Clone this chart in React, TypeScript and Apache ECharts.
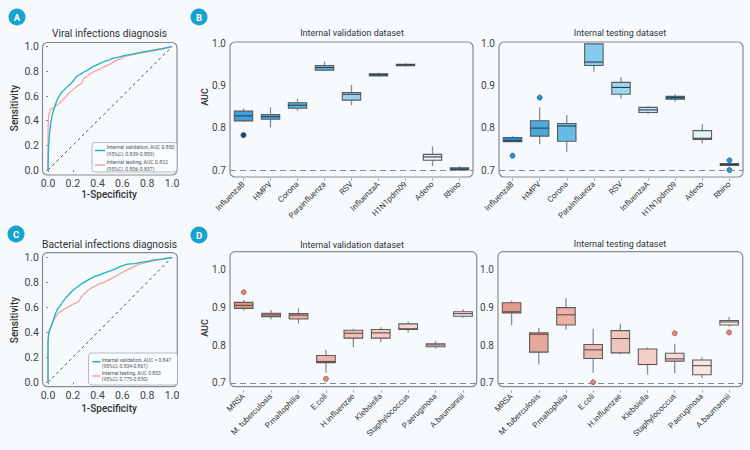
import React, { useEffect, useRef } from "react";
import * as echarts from "echarts";

// ---------- ROC data ----------
const viralValFpr = [0, 0.002, 0.008, 0.015, 0.022, 0.035, 0.054, 0.07, 0.09, 0.11, 0.13, 0.16, 0.185, 0.21, 0.226, 0.25, 0.266, 0.29, 0.32, 0.35, 0.39, 0.42, 0.456, 0.49, 0.52, 0.57, 0.62, 0.68, 0.73, 0.78, 0.84, 0.88, 0.92, 0.96, 1];
const viralValTpr = [0, 0.12, 0.245, 0.32, 0.38, 0.45, 0.515, 0.56, 0.6, 0.63, 0.65, 0.68, 0.7, 0.73, 0.755, 0.77, 0.78, 0.795, 0.81, 0.83, 0.85, 0.865, 0.88, 0.89, 0.905, 0.915, 0.93, 0.94, 0.95, 0.96, 0.97, 0.978, 0.985, 0.993, 1];
const viralTestFpr = [0, 0, 0.003, 0.01, 0.02, 0.035, 0.05, 0.07, 0.09, 0.11, 0.13, 0.15, 0.17, 0.19, 0.21, 0.23, 0.25, 0.27, 0.28, 0.29, 0.31, 0.33, 0.35, 0.375, 0.4, 0.43, 0.47, 0.51, 0.55, 0.58, 0.62, 0.66, 0.7, 0.75, 0.81, 0.86, 0.92, 0.96, 1];
const viralTestTpr = [0, 0.3, 0.41, 0.46, 0.49, 0.5, 0.505, 0.525, 0.54, 0.56, 0.58, 0.6, 0.625, 0.64, 0.66, 0.675, 0.69, 0.7, 0.72, 0.745, 0.755, 0.775, 0.785, 0.8, 0.81, 0.825, 0.845, 0.865, 0.89, 0.9, 0.92, 0.93, 0.94, 0.95, 0.96, 0.97, 0.98, 0.99, 1];
const bactValFpr = [0, 0, 0.004, 0.008, 0.015, 0.027, 0.04, 0.05, 0.063, 0.076, 0.095, 0.117, 0.135, 0.158, 0.185, 0.21, 0.24, 0.266, 0.3, 0.334, 0.375, 0.416, 0.455, 0.497, 0.54, 0.59, 0.64, 0.7, 0.75, 0.81, 0.86, 0.92, 0.96, 1];
const bactValTpr = [0, 0.32, 0.37, 0.4, 0.42, 0.45, 0.49, 0.52, 0.555, 0.585, 0.61, 0.64, 0.665, 0.69, 0.72, 0.745, 0.765, 0.785, 0.805, 0.825, 0.845, 0.86, 0.875, 0.89, 0.905, 0.93, 0.945, 0.95, 0.96, 0.97, 0.98, 0.985, 0.992, 1];
const bactTestFpr = [0, 0, 0.005, 0.02, 0.035, 0.05, 0.07, 0.09, 0.11, 0.13, 0.16, 0.185, 0.21, 0.24, 0.255, 0.266, 0.285, 0.307, 0.33, 0.36, 0.39, 0.416, 0.45, 0.484, 0.52, 0.55, 0.585, 0.62, 0.66, 0.7, 0.74, 0.78, 0.82, 0.86, 0.89, 0.93, 0.97, 1];
const bactTestTpr = [0, 0.33, 0.4, 0.44, 0.475, 0.505, 0.535, 0.56, 0.57, 0.585, 0.6, 0.615, 0.63, 0.64, 0.655, 0.68, 0.7, 0.72, 0.74, 0.76, 0.775, 0.79, 0.8, 0.815, 0.835, 0.85, 0.87, 0.89, 0.91, 0.93, 0.945, 0.955, 0.965, 0.975, 0.98, 0.99, 0.995, 1];

// ---------- Box plot data: [low whisker, Q1, median, Q3, high whisker] ----------
const viralCategories = ["InfluenzaB", "HMPV", "Corona", "Parainfluenza", "RSV", "InfluenzaA", "H1N1pdm09", "Adeno", "Rhino"];
const viralValBoxes = [
  [0.814, 0.816, 0.828, 0.839, 0.8455],
  [0.801, 0.82, 0.826, 0.831, 0.848],
  [0.84, 0.846, 0.853, 0.859, 0.868],
  [0.934, 0.936, 0.942, 0.947, 0.956],
  [0.853, 0.865, 0.879, 0.883, 0.901],
  [0.921, 0.922, 0.925, 0.9275, 0.93],
  [0.944, 0.9464, 0.948, 0.9496, 0.952],
  [0.709, 0.723, 0.731, 0.737, 0.756],
  [0.698, 0.7, 0.702, 0.705, 0.709],
];
const viralValOutliers = [[0, 0.7825]];
const viralTestBoxes = [
  [0.767, 0.767, 0.769, 0.777, 0.78],
  [0.761, 0.78, 0.799, 0.8164, 0.848],
  [0.743, 0.768, 0.804, 0.81, 0.83],
  [0.932, 0.947, 0.955, 0.998, 0.999],
  [0.869, 0.879, 0.895, 0.907, 0.919],
  [0.832, 0.836, 0.842, 0.848, 0.851],
  [0.861, 0.867, 0.871, 0.874, 0.879],
  [0.763, 0.772, 0.775, 0.793, 0.808],
  [0.709, 0.711, 0.713, 0.7155, 0.72],
];
const viralTestOutliers = [[0, 0.734], [1, 0.871], [8, 0.723], [8, 0.7]];

const bactCategories = ["MRSA", "M. tuberculosis", "P.maltophilia", "E.coli", "H.influenzae", "Klebsiella", "Staphylococcus", "P.aeruginosa", "A.baumannii"];
const bactValBoxes = [
  [0.892, 0.898, 0.906, 0.914, 0.92],
  [0.869, 0.876, 0.881, 0.885, 0.894],
  [0.858, 0.87, 0.88, 0.884, 0.898],
  [0.727, 0.754, 0.757, 0.773, 0.788],
  [0.795, 0.819, 0.832, 0.84, 0.844],
  [0.809, 0.819, 0.833, 0.842, 0.848],
  [0.834, 0.842, 0.844, 0.857, 0.863],
  [0.792, 0.796, 0.801, 0.804, 0.811],
  [0.873, 0.877, 0.884, 0.889, 0.896],
];
const bactValOutliers = [[0, 0.941], [3, 0.711]];
const bactTestBoxes = [
  [0.853, 0.886, 0.889, 0.913, 0.919],
  [0.749, 0.782, 0.829, 0.833, 0.846],
  [0.841, 0.854, 0.881, 0.9, 0.925],
  [0.727, 0.765, 0.788, 0.802, 0.844],
  [0.776, 0.78, 0.818, 0.839, 0.857],
  [0.722, 0.749, 0.749, 0.79, 0.794],
  [0.726, 0.758, 0.764, 0.779, 0.804],
  [0.713, 0.722, 0.746, 0.761, 0.768],
  [0.85, 0.854, 0.862, 0.866, 0.875],
];
const bactTestOutliers = [[3, 0.702], [6, 0.832], [8, 0.834]];

const viralValColors = ["#3aa3de", "#48a9de", "#56b2e2", "#62bce8", "#9bd2f0", "#3d7fa3", "#5a9cc0", "#e7f3fa", "#2a8ed0"];
const viralTestColors = ["#1c8bd0", "#47abe0", "#66bce8", "#85cbee", "#9ed5f1", "#c6e6f6", "#2394d6", "#e5f3fa", "#1f77b4"];
const bactValColors = ["#e0978a", "#d9a096", "#e6ada2", "#ebb7ad", "#eec1b9", "#f1cbc4", "#f3d6d0", "#f5e2de", "#f8efed"];
const bactTestColors = ["#e39c8e", "#e7a89d", "#eab3a8", "#ecbcb3", "#efc6be", "#f2d1cb", "#f5dbd6", "#f7e6e3", "#f4f0ef"];

const FONT = "Roboto, sans-serif";
const BG = "#f6fafd";
const TEAL = "#1fb0c6";
const PINK = "#f4a3a3";

function zip(a: number[], b: number[]) {
  return a.map((v, i) => [v, b[i]]);
}

function boxRender(colors: string[], medianColor: string) {
  return (params: any, api: any) => {
    const i = api.value(0);
    const lo = api.coord([i, api.value(1)]);
    const q1 = api.coord([i, api.value(2)]);
    const md = api.coord([i, api.value(3)]);
    const q3 = api.coord([i, api.value(4)]);
    const hi = api.coord([i, api.value(5)]);
    const w = api.size([1, 0])[0] * 0.68;
    const x = lo[0];
    const wStyle = { stroke: "#8c8c8c", lineWidth: 1.3 };
    return {
      type: "group",
      children: [
        { type: "line", shape: { x1: x, y1: hi[1], x2: x, y2: q3[1] }, style: wStyle },
        { type: "line", shape: { x1: x, y1: q1[1], x2: x, y2: lo[1] }, style: wStyle },
        {
          type: "rect",
          shape: { x: x - w / 2, y: q3[1], width: w, height: Math.max(q1[1] - q3[1], 1) },
          style: { fill: colors[params.dataIndex], stroke: "#5b5b5b", lineWidth: 1.1 },
        },
        { type: "line", shape: { x1: x - w / 2, y1: md[1], x2: x + w / 2, y2: md[1] }, style: { stroke: medianColor, lineWidth: 1.1 } },
      ],
    };
  };
}

function boxData(boxes: number[][]) {
  return boxes.map((b, i) => [i, b[0], b[1], b[2], b[3], b[4]]);
}

export default function App() {
  const ref = useRef<HTMLDivElement>(null);
  useEffect(() => {
    document.body.style.margin = "0";
    document.body.style.background = BG;
    const chart = echarts.init(ref.current!, null, { renderer: "svg" });

    const rocGrid = (top: number, height: number) => ({ left: 48, top, width: 124, height });
    const grids = [
      rocGrid(46.7, 123.3),
      rocGrid(257.3, 125),
      { left: 230, top: 43, width: 243, height: 135.5 },
      { left: 499, top: 43, width: 244, height: 135.5 },
      { left: 230, top: 254.9, width: 246.7, height: 135.6 },
      { left: 498, top: 254.9, width: 244.7, height: 135.6 },
    ];

    const rocX = (gi: number, offset: number) => ({
      type: "value", gridIndex: gi, min: 0, max: 1, interval: 0.2, offset,
      axisLine: { show: false }, splitLine: { show: false },
      axisTick: { show: true, length: 2, lineStyle: { color: "#888" } },
      axisLabel: { fontSize: 10.5, color: "#444", fontFamily: FONT, margin: 3, formatter: (v: number) => v.toFixed(1) },
    });
    const rocY = (gi: number) => ({
      type: "value", gridIndex: gi, min: 0, max: 1, interval: 0.2, offset: 5.5,
      axisLine: { show: false }, splitLine: { show: false },
      axisTick: { show: true, length: 2, lineStyle: { color: "#888" } },
      axisLabel: { fontSize: 10.5, color: "#444", fontFamily: FONT, margin: 3.5, formatter: (v: number) => v.toFixed(1) },
    });
    const catX = (gi: number, cats: string[]) => ({
      type: "category", gridIndex: gi, data: cats,
      axisLine: { show: false }, splitLine: { show: false },
      axisTick: { show: true, alignWithLabel: true, length: 2, lineStyle: { color: "#999" } },
      axisLabel: { rotate: 45, fontSize: 8, color: "#333", fontFamily: FONT, margin: 4.5, interval: 0 },
    });
    const aucY = (gi: number, max: number) => ({
      type: "value", gridIndex: gi, min: 0.68, max, interval: 0.02,
      axisLine: { show: false }, splitLine: { show: false }, axisTick: { show: false },
      axisLabel: {
        fontSize: 10, color: "#444", fontFamily: FONT, margin: 4,
        formatter: (v: number) => {
          const t = Math.round(v * 10);
          return Math.abs(v * 10 - t) < 1e-6 && v >= 0.69 && v <= 1.001 ? (t / 10).toFixed(1) : "";
        },
      },
    });

    const dashLine = {
      silent: true, symbol: "none",
      label: { show: false },
      lineStyle: { type: [6, 4], color: "#8a8a8a", width: 1.2 },
      data: [{ yAxis: 0.7 }],
    };

    const rocSeries = (gi: number, fpr: number[], tpr: number[], color: string, name: string) => ({
      type: "line", name, xAxisIndex: gi, yAxisIndex: gi, data: zip(fpr, tpr),
      showSymbol: false, symbol: "none", lineStyle: { color, width: 1.3 }, z: 3,
    });
    const diag = (gi: number) => ({
      type: "line", xAxisIndex: gi, yAxisIndex: gi, data: [[0, 0], [1, 1]], showSymbol: false, symbol: "none",
      lineStyle: { color: "#222", width: 0.8, type: [3, 3] }, z: 2,
    });
    const boxSeries = (gi: number, boxes: number[][], colors: string[], med: string) => ({
      type: "custom", xAxisIndex: gi, yAxisIndex: gi, data: boxData(boxes),
      encode: { x: 0, y: [1, 2, 3, 4, 5] }, renderItem: boxRender(colors, med), z: 3,
    });
    const outSeries = (gi: number, pts: number[][], fill: string, border: string) => ({
      type: "scatter", xAxisIndex: gi, yAxisIndex: gi, data: pts, symbolSize: 5,
      itemStyle: { color: fill, borderColor: border, borderWidth: 0.8, opacity: 1 }, z: 4,
      markLine: dashLine,
    });

    const frame = (x1: number, y1: number, x2: number, y2: number) => ({
      type: "rect", shape: { x: x1, y: y1, width: x2 - x1, height: y2 - y1, r: 5 },
      style: { fill: "none", stroke: "#8a8a8a", lineWidth: 1.2 }, z: 10, silent: true,
    });
    const text = (x: number, y: number, t: string, size: number, opts: any = {}) => ({
      type: "text", x, y, rotation: opts.rotation || 0, z: 12,
      style: {
        text: t, fontSize: size, fontFamily: FONT, fill: opts.color || "#333",
        fontWeight: opts.weight || "normal", align: opts.align || "center", verticalAlign: "middle",
      },
    });
    const badge = (x: number, y: number, letter: string) => ([
      { type: "circle", shape: { cx: x, cy: y, r: 8.5 }, style: { fill: "#17a2cf" }, z: 12 },
      text(x, y + 0.5, letter, 9.5, { color: "#fff", weight: "bold" }),
    ]);
    const legend = (x1: number, y1: number, x2: number, y2: number, lx1: number, lx2: number, ly1: number, ly2: number, tx: number, ty: number[], lines: string[], fs: number) => ([
      {
        type: "rect", shape: { x: x1, y: y1, width: x2 - x1, height: y2 - y1, r: 3 },
        style: { fill: "#f9fcfe", stroke: "#a8a8a8", lineWidth: 0.8 }, z: 11,
      },
      { type: "line", shape: { x1: lx1, y1: ly1, x2: lx2, y2: ly1 }, style: { stroke: TEAL, lineWidth: 1.5 }, z: 12 },
      { type: "line", shape: { x1: lx1, y1: ly2, x2: lx2, y2: ly2 }, style: { stroke: PINK, lineWidth: 1.5 }, z: 12 },
      ...lines.map((l, i) => text(tx, ty[i], l, fs, { align: "left", color: "#555" })),
    ]);

    const graphic = [
      ...badge(17, 17, "A"), ...badge(199, 17, "B"), ...badge(16, 234, "C"), ...badge(199, 235, "D"),
      frame(42.5, 42.5, 177, 175),
      frame(42.5, 252.7, 177.3, 386.7),
      frame(230, 42, 473, 177),
      frame(499, 42, 743, 177),
      frame(230, 251.7, 476.7, 386.7),
      frame(498, 251.7, 742.7, 386.7),
      text(109.5, 33, "Viral infections diagnosis", 10.3),
      text(109.5, 244, "Bacterial infections diagnosis", 10.3),
      text(352, 33, "Internal validation dataset", 9),
      text(620, 33, "Internal testing dataset", 9),
      text(352, 245, "Internal validation dataset", 9),
      text(620, 244, "Internal testing dataset", 9),
      text(14, 108, "Sensitivity", 10, { rotation: Math.PI / 2, weight: 500 }),
      text(14, 320, "Sensitivity", 10, { rotation: Math.PI / 2, weight: 500 }),
      text(109, 194, "1-Specificity", 10, { weight: 500 }),
      text(109, 408, "1-Specificity", 10, { weight: 500 }),
      text(205, 97, "AUC", 9, { rotation: Math.PI / 2, weight: 500 }),
      text(205, 328, "AUC", 9, { rotation: Math.PI / 2, weight: 500 }),
      ...legend(92, 142.5, 177, 172, 95, 105, 150.5, 165, 106.7, [146.7, 154, 162.3, 168.5],
        ["Internal validation, AUC 0.850", "(95%CI, 0.839-0.859)", "Internal testing, AUC 0.822", "(95%CI, 0.806-0.837)"], 5.2),
      ...legend(88.5, 353, 177.5, 385, 92.5, 100.5, 361.7, 376, 101.7, [359.7, 365.7, 373.3, 379],
        ["Internal validation, AUC = 0.847", "(95%CI, 0.834-0.861)", "Internal testing, AUC 0.803", "(95%CI, 0.775-0.830)"], 5),
    ];

    chart.setOption({
      animation: false,
      backgroundColor: BG,
      textStyle: { fontFamily: FONT },
      grid: grids,
      xAxis: [
        rocX(0, 5), rocX(1, 4.4),
        catX(2, viralCategories), catX(3, viralCategories),
        catX(4, bactCategories), catX(5, bactCategories),
      ],
      yAxis: [rocY(0), rocY(1), aucY(2, 1.0), aucY(3, 1.0), aucY(4, 1.04), aucY(5, 1.04)],
      series: [
        diag(0), rocSeries(0, viralTestFpr, viralTestTpr, PINK, "Internal testing"), rocSeries(0, viralValFpr, viralValTpr, TEAL, "Internal validation"),
        diag(1), rocSeries(1, bactTestFpr, bactTestTpr, PINK, "Internal testing"), rocSeries(1, bactValFpr, bactValTpr, TEAL, "Internal validation"),
        boxSeries(2, viralValBoxes, viralValColors, "#2f3d45"),
        outSeries(2, viralValOutliers, "#1d4e74", "#1d3b55"),
        boxSeries(3, viralTestBoxes, viralTestColors, "#2f3d45"),
        outSeries(3, viralTestOutliers, "#2196d6", "#1a5f8a"),
        boxSeries(4, bactValBoxes, bactValColors, "#6a4a45"),
        outSeries(4, bactValOutliers, "#e0887a", "#9a5a50"),
        boxSeries(5, bactTestBoxes, bactTestColors, "#6a4a45"),
        outSeries(5, bactTestOutliers, "#e0887a", "#9a5a50"),
      ],
      graphic,
    });
    return () => chart.dispose();
  }, []);
  return <div ref={ref} style={{ width: 750, height: 450, background: BG }} />;
}
